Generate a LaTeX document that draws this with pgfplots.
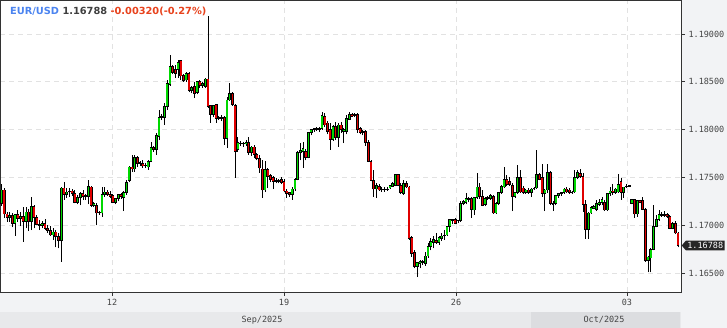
\documentclass[border=0pt]{standalone}
\usepackage{fontspec}
\setmainfont{DejaVu Sans}
\newfontfamily\monofont{DejaVu Sans Mono}
\usepackage{pgfplots}
\usepackage{pgfplotstable}
\pgfplotsset{compat=1.18}
\usetikzlibrary{shapes.symbols}
\definecolor{pagebg}{HTML}{F2F3F5}
\definecolor{sepbg}{HTML}{E8E9EB}
\definecolor{octbg}{HTML}{DCDDE0}
\definecolor{axisgray}{HTML}{333333}
\definecolor{gridgray}{HTML}{E2E2E2}
\definecolor{labelgray}{HTML}{444444}
\definecolor{upgreen}{HTML}{00D800}
\definecolor{downred}{HTML}{E00000}
\definecolor{titleblue}{HTML}{4B84F0}
\definecolor{titlegray}{HTML}{3F3F3F}
\definecolor{titlered}{HTML}{E8421C}
\definecolor{tagbg}{HTML}{262626}

\pgfplotstableread{
i o h l c
0 1.1723 1.1743 1.1720 1.1737
1 1.1737 1.1739 1.1708 1.1712
2 1.1712 1.1714 1.1704 1.1708
3 1.1708 1.1714 1.1704 1.1710
4 1.1710 1.1713 1.1698 1.1702
5 1.1702 1.1712 1.1689 1.1711
6 1.1711 1.1716 1.1704 1.1707
7 1.1707 1.1714 1.1699 1.1709
8 1.1709 1.1719 1.1683 1.1704
9 1.1704 1.1719 1.1697 1.1714
10 1.1714 1.1717 1.1694 1.1704
11 1.1704 1.1730 1.1695 1.1720
12 1.1720 1.1721 1.1697 1.1708
13 1.1708 1.1711 1.1700 1.1701
14 1.1701 1.1706 1.1695 1.1700
15 1.1700 1.1705 1.1697 1.1702
16 1.1702 1.1707 1.1695 1.1697
17 1.1697 1.1700 1.1692 1.1695
18 1.1695 1.1699 1.1689 1.1690
19 1.1690 1.1697 1.1685 1.1693
20 1.1693 1.1695 1.1677 1.1688
21 1.1688 1.1692 1.1676 1.1684
22 1.1684 1.1740 1.1662 1.1739
23 1.1739 1.1745 1.1727 1.1732
24 1.1732 1.1739 1.1729 1.1735
25 1.1735 1.1739 1.1730 1.1736
26 1.1736 1.1738 1.1731 1.1733
27 1.1733 1.1737 1.1723 1.1724
28 1.1724 1.1732 1.1722 1.1729
29 1.1729 1.1735 1.1721 1.1733
30 1.1733 1.1737 1.1727 1.1730
31 1.1730 1.1733 1.1727 1.1731
32 1.1730 1.1747 1.1722 1.1741
33 1.1740 1.1741 1.1719 1.1721
34 1.1721 1.1724 1.1719 1.1723
35 1.1721 1.1723 1.1700 1.1713
36 1.1713 1.1715 1.1711 1.1714
37 1.1713 1.1740 1.1709 1.1732
38 1.1732 1.1740 1.1730 1.1735
39 1.1735 1.1737 1.1731 1.1732
40 1.1732 1.1736 1.1729 1.1730
41 1.1731 1.1733 1.1723 1.1724
42 1.1724 1.1729 1.1722 1.1728
43 1.1728 1.1733 1.1725 1.1732
44 1.1732 1.1734 1.1728 1.1730
45 1.1729 1.1736 1.1715 1.1734
46 1.1734 1.1747 1.1732 1.1745
47 1.1747 1.1762 1.1745 1.1761
48 1.1761 1.1774 1.1756 1.1759
49 1.1759 1.1774 1.1756 1.1771
50 1.1771 1.1773 1.1761 1.1765
51 1.1765 1.1767 1.1762 1.1766
52 1.1765 1.1768 1.1760 1.1762
53 1.1762 1.1765 1.1760 1.1763
54 1.1761 1.1768 1.1758 1.1767
55 1.1767 1.1787 1.1766 1.1781
56 1.1781 1.1783 1.1777 1.1779
57 1.1779 1.1797 1.1774 1.1794
58 1.1793 1.1821 1.1789 1.1813
59 1.1813 1.1816 1.1810 1.1814
60 1.1813 1.1828 1.1805 1.1824
61 1.1824 1.1852 1.1821 1.1848
62 1.1847 1.1878 1.1846 1.1866
63 1.1866 1.1868 1.1858 1.1860
64 1.1863 1.1868 1.1854 1.1859
65 1.1863 1.1873 1.1854 1.1870
66 1.1872 1.1873 1.1852 1.1856
67 1.1857 1.1858 1.1850 1.1851
68 1.1852 1.1860 1.1850 1.1859
69 1.1859 1.1860 1.1839 1.1841
70 1.1841 1.1846 1.1838 1.1844
71 1.1845 1.1850 1.1833 1.1838
72 1.1839 1.1850 1.1837 1.1850
73 1.1850 1.1852 1.1844 1.1846
74 1.1846 1.1850 1.1844 1.1848
75 1.1845 1.1854 1.1844 1.1853
76 1.1853 1.1919 1.1823 1.1824
77 1.1825 1.1826 1.1807 1.1816
78 1.1816 1.1826 1.1813 1.1825
79 1.1826 1.1827 1.1807 1.1812
80 1.1813 1.1814 1.1810 1.1812
81 1.1812 1.1815 1.1809 1.1813
82 1.1813 1.1814 1.1784 1.1791
83 1.1791 1.1834 1.1781 1.1831
84 1.1831 1.1849 1.1830 1.1838
85 1.1838 1.1839 1.1825 1.1826
86 1.1825 1.1827 1.1750 1.1777
87 1.1779 1.1792 1.1777 1.1787
88 1.1786 1.1788 1.1783 1.1785
89 1.1785 1.1787 1.1782 1.1786
90 1.1785 1.1789 1.1783 1.1787
91 1.1787 1.1792 1.1774 1.1776
92 1.1776 1.1783 1.1773 1.1782
93 1.1782 1.1784 1.1770 1.1774
94 1.1774 1.1776 1.1768 1.1770
95 1.1770 1.1774 1.1755 1.1760
96 1.1759 1.1768 1.1729 1.1737
97 1.1737 1.1767 1.1735 1.1758
98 1.1758 1.1760 1.1739 1.1751
99 1.1752 1.1754 1.1745 1.1748
100 1.1750 1.1752 1.1738 1.1746
101 1.1747 1.1750 1.1744 1.1746
102 1.1746 1.1748 1.1744 1.1747
103 1.1748 1.1751 1.1743 1.1745
104 1.1746 1.1748 1.1735 1.1736
105 1.1736 1.1738 1.1729 1.1733
106 1.1734 1.1735 1.1730 1.1732
107 1.1732 1.1740 1.1727 1.1738
108 1.1738 1.1750 1.1736 1.1748
109 1.1748 1.1778 1.1747 1.1776
110 1.1776 1.1786 1.1768 1.1778
111 1.1777 1.1787 1.1760 1.1780
112 1.1777 1.1780 1.1768 1.1771
113 1.1771 1.1798 1.1770 1.1797
114 1.1797 1.1801 1.1794 1.1800
115 1.1800 1.1802 1.1798 1.1801
116 1.1801 1.1803 1.1799 1.1800
117 1.1800 1.1803 1.1798 1.1801
118 1.1801 1.1818 1.1800 1.1815
119 1.1814 1.1817 1.1803 1.1805
120 1.1807 1.1809 1.1795 1.1798
121 1.1800 1.1807 1.1779 1.1790
122 1.1790 1.1805 1.1788 1.1803
123 1.1803 1.1808 1.1789 1.1792
124 1.1792 1.1807 1.1782 1.1805
125 1.1805 1.1808 1.1797 1.1800
126 1.1798 1.1802 1.1786 1.1800
127 1.1798 1.1815 1.1795 1.1812
128 1.1811 1.1818 1.1810 1.1816
129 1.1816 1.1817 1.1813 1.1814
130 1.1815 1.1817 1.1813 1.1816
131 1.1816 1.1817 1.1797 1.1800
132 1.1801 1.1803 1.1795 1.1797
133 1.1798 1.1800 1.1794 1.1797
134 1.1798 1.1800 1.1783 1.1787
135 1.1787 1.1789 1.1766 1.1767
136 1.1767 1.1768 1.1746 1.1747
137 1.1747 1.1758 1.1730 1.1738
138 1.1738 1.1744 1.1729 1.1742
139 1.1741 1.1743 1.1736 1.1737
140 1.1738 1.1740 1.1735 1.1737
141 1.1737 1.1740 1.1735 1.1738
142 1.1738 1.1740 1.1736 1.1738
143 1.1739 1.1742 1.1738 1.1742
144 1.1741 1.1745 1.1740 1.1744
145 1.1742 1.1753 1.1741 1.1753
146 1.1753 1.1754 1.1741 1.1742
147 1.1742 1.1744 1.1733 1.1734
148 1.1733 1.1747 1.1732 1.1744
149 1.1744 1.1746 1.1739 1.1740
150 1.1740 1.1741 1.1685 1.1686
151 1.1687 1.1689 1.1667 1.1671
152 1.1672 1.1674 1.1655 1.1657
153 1.1657 1.1662 1.1646 1.1661
154 1.1660 1.1664 1.1655 1.1662
155 1.1661 1.1664 1.1659 1.1662
156 1.1660 1.1672 1.1658 1.1668
157 1.1668 1.1682 1.1666 1.1678
158 1.1678 1.1687 1.1674 1.1683
159 1.1682 1.1689 1.1676 1.1685
160 1.1684 1.1692 1.1681 1.1682
161 1.1682 1.1689 1.1680 1.1687
162 1.1686 1.1692 1.1684 1.1689
163 1.1689 1.1695 1.1685 1.1690
164 1.1690 1.1699 1.1689 1.1699
165 1.1699 1.1707 1.1693 1.1706
166 1.1705 1.1707 1.1701 1.1706
167 1.1706 1.1708 1.1701 1.1702
168 1.1705 1.1706 1.1702 1.1705
169 1.1705 1.1725 1.1704 1.1723
170 1.1723 1.1727 1.1721 1.1725
171 1.1724 1.1734 1.1722 1.1728
172 1.1727 1.1730 1.1724 1.1728
173 1.1728 1.1730 1.1708 1.1717
174 1.1716 1.1730 1.1711 1.1729
175 1.1729 1.1755 1.1728 1.1740
176 1.1740 1.1744 1.1728 1.1730
177 1.1730 1.1737 1.1720 1.1721
178 1.1722 1.1730 1.1720 1.1728
179 1.1728 1.1731 1.1727 1.1729
180 1.1728 1.1733 1.1727 1.1731
181 1.1730 1.1732 1.1712 1.1713
182 1.1713 1.1724 1.1712 1.1723
183 1.1723 1.1735 1.1721 1.1734
184 1.1734 1.1742 1.1733 1.1741
185 1.1740 1.1761 1.1739 1.1748
186 1.1748 1.1753 1.1741 1.1743
187 1.1746 1.1751 1.1741 1.1743
188 1.1742 1.1744 1.1715 1.1730
189 1.1730 1.1735 1.1729 1.1734
190 1.1734 1.1763 1.1733 1.1750
191 1.1750 1.1758 1.1734 1.1735
192 1.1739 1.1741 1.1733 1.1734
193 1.1734 1.1738 1.1733 1.1737
194 1.1737 1.1739 1.1733 1.1734
195 1.1734 1.1739 1.1730 1.1738
196 1.1738 1.1740 1.1737 1.1739
197 1.1739 1.1779 1.1738 1.1753
198 1.1753 1.1755 1.1747 1.1748
199 1.1750 1.1764 1.1730 1.1733
200 1.1733 1.1738 1.1715 1.1737
201 1.1737 1.1764 1.1734 1.1755
202 1.1755 1.1757 1.1721 1.1723
203 1.1723 1.1725 1.1715 1.1722
204 1.1723 1.1732 1.1721 1.1731
205 1.1731 1.1733 1.1729 1.1733
206 1.1733 1.1734 1.1731 1.1734
207 1.1734 1.1739 1.1733 1.1738
208 1.1738 1.1740 1.1734 1.1735
209 1.1737 1.1739 1.1733 1.1734
210 1.1734 1.1736 1.1733 1.1735
211 1.1735 1.1758 1.1734 1.1750
212 1.1750 1.1758 1.1748 1.1755
213 1.1754 1.1759 1.1750 1.1751
214 1.1751 1.1755 1.1714 1.1722
215 1.1722 1.1727 1.1686 1.1696
216 1.1696 1.1714 1.1686 1.1713
217 1.1713 1.1720 1.1712 1.1719
218 1.1718 1.1721 1.1717 1.1720
219 1.1717 1.1727 1.1715 1.1723
220 1.1722 1.1728 1.1720 1.1724
221 1.1724 1.1730 1.1721 1.1727
222 1.1724 1.1727 1.1715 1.1716
223 1.1716 1.1734 1.1715 1.1733
224 1.1733 1.1740 1.1731 1.1736
225 1.1736 1.1743 1.1732 1.1734
226 1.1734 1.1739 1.1733 1.1738
227 1.1735 1.1754 1.1734 1.1743
228 1.1746 1.1750 1.1727 1.1734
229 1.1734 1.1740 1.1729 1.1740
230 1.1740 1.1743 1.1739 1.1741
231 1.1741 1.1742 1.1740 1.1742
232 1.1723 1.1727 1.1722 1.1727
233 1.1727 1.1728 1.1708 1.1712
234 1.1712 1.1727 1.1709 1.1726
235 1.1726 1.1727 1.1723 1.1724
236 1.1726 1.1730 1.1716 1.1717
237 1.1717 1.1718 1.1662 1.1663
238 1.1663 1.1668 1.1651 1.1667
239 1.1666 1.1676 1.1651 1.1675
240 1.1675 1.1721 1.1674 1.1699
241 1.1699 1.1711 1.1698 1.1706
242 1.1706 1.1716 1.1705 1.1711
243 1.1711 1.1714 1.1709 1.1710
244 1.1710 1.1715 1.1709 1.1711
245 1.1711 1.1713 1.1708 1.1709
246 1.1709 1.1711 1.1696 1.1697
247 1.1697 1.1704 1.1696 1.1702
248 1.1702 1.1705 1.1691 1.1692
249 1.1692 1.1693 1.1677 1.16788
}\candles

\begin{document}
\begin{tikzpicture}
\useasboundingbox (0,0) rectangle (727bp,328bp);
\fill[pagebg] (0,0) rectangle (727bp,328bp);
\fill[white] (0,36bp) rectangle (681bp,328bp);
\fill[sepbg] (0,0) rectangle (681bp,16bp);
\fill[octbg] (531bp,0) rectangle (680bp,16bp);
\begin{axis}[
  at={(0bp,36bp)}, anchor=south west,
  scale only axis, width=681bp, height=292bp,
  xmin=-0.55, xmax=250.1, ymin=1.16304, ymax=1.19355,
  axis line style={draw=axisgray, line width=0.8bp},
  xtick={40.7,104.0,167.3,230.2}, xticklabels={12,19,26,03},
  ytick={1.165,1.17,1.175,1.18,1.185,1.19},
  yticklabels={1.16500,1.17000,1.17500,1.18000,1.18500,1.19000},
  xtick pos=bottom, ytick pos=right, yticklabel pos=right,
  tick align=outside, major tick length=4bp,
  tick style={draw=axisgray, line width=0.7bp},
  xmajorgrids, ymajorgrids,
  major grid style={draw=gridgray, line width=0.7bp, dash pattern=on 5bp off 4bp},
  tick label style={font=\monofont\fontsize{8.5bp}{10bp}\selectfont, text=labelgray},
  /pgf/number format/assume math mode=true,
  candle/.style={draw=none, mark=none, forget plot,
    error bars/.cd, y dir=plus, y explicit, error mark=none, error bar style={#1}},
]
% wicks
\addplot[candle={draw=black, line width=0.8bp, line cap=butt}]
  table[x=i, y=l, y error expr=\thisrow{h}-\thisrow{l}] {\candles};
% body outlines
\addplot[candle={draw=black, line width=2.8bp, line cap=butt}]
  table[x=i, y expr={min(\thisrow{o},\thisrow{c})-0.00004},
        y error expr={abs(\thisrow{c}-\thisrow{o})+0.00008}] {\candles};
% up bodies
\addplot[restrict expr to domain={\thisrow{c}-\thisrow{o}}{0.00015:1},
  candle={draw=upgreen, line width=1.5bp, line cap=butt}]
  table[x=i, y expr={\thisrow{o}+0.00004},
        y error expr={\thisrow{c}-\thisrow{o}-0.00008}] {\candles};
% down bodies
\addplot[restrict expr to domain={\thisrow{o}-\thisrow{c}}{0.00015:1},
  candle={draw=downred, line width=1.5bp, line cap=butt}]
  table[x=i, y expr={\thisrow{c}+0.00004},
        y error expr={\thisrow{o}-\thisrow{c}-0.00008}] {\candles};
\end{axis}
\node[anchor=base west, inner sep=0pt, font=\bfseries\fontsize{9.8bp}{11bp}\selectfont] at (10bp,313bp)
  {\textcolor{titleblue}{EUR/USD} \textcolor{titlegray}{1.16788} \textcolor{titlered}{-0.00320(-0.27\%)}};
\node[signal, signal to=west, signal pointer angle=100, fill=tagbg, text=white, inner xsep=1.5bp, inner ysep=1.6bp,
  anchor=west, font=\monofont\fontsize{8.5bp}{10bp}\selectfont] at (681.5bp,82.5bp) {1.16788};
\node[font=\monofont\fontsize{8.5bp}{10bp}\selectfont, text=labelgray] at (262bp,8bp) {Sep/2025};
\node[font=\monofont\fontsize{8.5bp}{10bp}\selectfont, text=labelgray] at (604bp,8bp) {Oct/2025};
\end{tikzpicture}
\end{document}
